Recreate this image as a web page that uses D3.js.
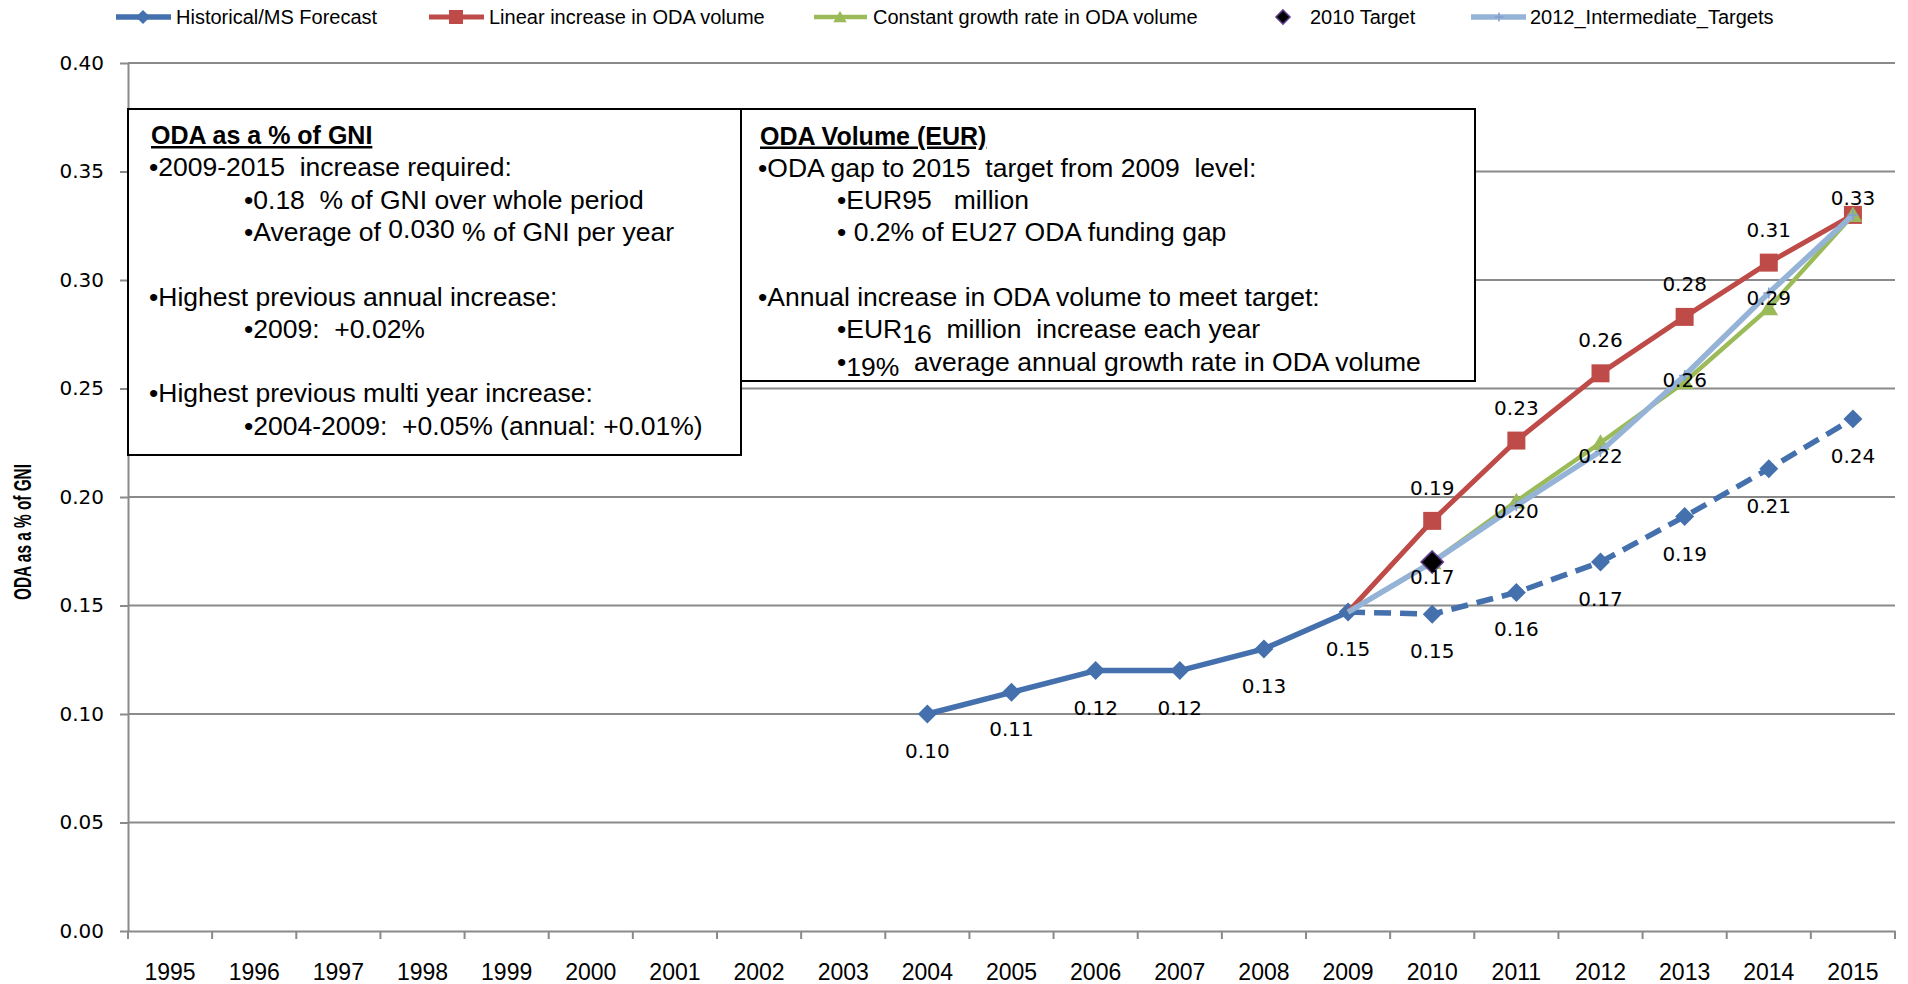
<!DOCTYPE html>
<html>
<head>
<meta charset="utf-8">
<script src="https://cdn.jsdelivr.net/npm/d3@7"></script>
<style>
  html, body { margin: 0; padding: 0; background: #fff; }
  svg { display: block; }
  text { white-space: pre; }
</style>
</head>
<body>
<svg id="chart" width="1908" height="984"></svg>
<script>
// ---- data -------------------------------------------------------------
const years = ["1995", "1996", "1997", "1998", "1999", "2000", "2001", "2002", "2003", "2004",
               "2005", "2006", "2007", "2008", "2009", "2010", "2011", "2012", "2013", "2014", "2015"];
const yTicks = [0.00, 0.05, 0.10, 0.15, 0.20, 0.25, 0.30, 0.35, 0.40];

const historicalYears  = ["2004", "2005", "2006", "2007", "2008", "2009"];
const historicalValues = [0.100, 0.110, 0.120, 0.120, 0.130, 0.147];

const projectionYears  = ["2009", "2010", "2011", "2012", "2013", "2014", "2015"];
const forecastValues     = [0.147, 0.146, 0.156, 0.170, 0.191, 0.213, 0.236];
const linearValues       = [0.147, 0.189, 0.226, 0.257, 0.283, 0.308, 0.330];
const constantValues     = [0.147, 0.170, 0.198, 0.225, 0.253, 0.287, 0.330];
const intermediateValues = [0.147, 0.170, 0.196, 0.221, 0.256, 0.294, 0.330];

const target2010Years  = ["2010"];
const target2010Values = [0.170];

const seriesNames = ["Historical/MS Forecast", "Linear increase in ODA volume",
                     "Constant growth rate in ODA volume", "2010 Target", "2012_Intermediate_Targets"];

const yAxisTitle = "ODA as a % of GNI";

// text panels: level 0 = heading, 1 = bullet, 2 = sub-bullet, null = blank line
// {..} marks a raised run, [..] a lowered run
const gniPanelLines = [
  { level: 0, text: "ODA as a % of GNI" },
  { level: 1, text: "•2009-2015  increase required:" },
  { level: 2, text: "•0.18  % of GNI over whole period" },
  { level: 2, text: "•Average of {0.030} % of GNI per year" },
  { level: null, text: "" },
  { level: 1, text: "•Highest previous annual increase:" },
  { level: 2, text: "•2009:  +0.02%" },
  { level: null, text: "" },
  { level: 1, text: "•Highest previous multi year increase:" },
  { level: 2, text: "•2004-2009:  +0.05% (annual: +0.01%)" }
];
const volumePanelLines = [
  { level: 0, text: "ODA Volume (EUR)" },
  { level: 1, text: "•ODA gap to 2015  target from 2009  level:" },
  { level: 2, text: "•EUR95   million" },
  { level: 2, text: "• 0.2% of EU27 ODA funding gap" },
  { level: null, text: "" },
  { level: 1, text: "•Annual increase in ODA volume to meet target:" },
  { level: 2, text: "•EUR[16]  million  increase each year" },
  { level: 2, text: "•[19%]  average annual growth rate in ODA volume" }
];

// ---- layout -----------------------------------------------------------
const svg = d3.select("#chart");
const plot = { left: 128, right: 1895, top: 63, bottom: 931 };

const x = d3.scaleBand().domain(years).range([plot.left, plot.right]).padding(0);
const cx = yr => x(yr) + x.bandwidth() / 2;
const y = d3.scaleLinear().domain([0, 0.4]).range([plot.bottom, plot.top]);
const fmt = d3.format(".2f");

const COLORS = {
  grid: "#8a8a8a",
  blue: "#4470AD",
  red: "#BE4B48",
  green: "#9BBB59",
  lightBlue: "#95B3D7",
  plusMark: "#7F9FCC"
};
const LABEL_FONT = "'DejaVu Sans', Verdana, sans-serif";
const TEXT_FONT = "'Liberation Sans', Arial, sans-serif";

// custom marker shapes
const diamond = { draw(ctx, size) { const r = Math.sqrt(size / 2);
  ctx.moveTo(0, -r); ctx.lineTo(r, 0); ctx.lineTo(0, r); ctx.lineTo(-r, 0); ctx.closePath(); } };
const triangle = { draw(ctx, size) { const w = Math.sqrt(size);
  ctx.moveTo(0, -w * 0.5); ctx.lineTo(w * 0.55, w * 0.42); ctx.lineTo(-w * 0.55, w * 0.42); ctx.closePath(); } };
const plusMark = { draw(ctx, size) { const r = Math.sqrt(size) / 2;
  ctx.moveTo(-r, 0); ctx.lineTo(r, 0); ctx.moveTo(0, -r); ctx.lineTo(0, r); } };

const pairs = (yrs, vals) => yrs.map((yr, i) => ({ year: yr, value: vals[i] }));

// ---- gridlines --------------------------------------------------------
svg.append("g").selectAll("line")
  .data(yTicks.filter(t => t > 0))
  .join("line")
  .attr("x1", plot.left).attr("x2", plot.right)
  .attr("y1", d => y(d)).attr("y2", d => y(d))
  .attr("stroke", COLORS.grid).attr("stroke-width", 2);

// ---- axes -------------------------------------------------------------
const yAxis = svg.append("g")
  .attr("transform", `translate(${plot.left},0)`)
  .call(d3.axisLeft(y).tickValues(yTicks).tickFormat(fmt).tickSize(8).tickSizeOuter(0).tickPadding(16));
yAxis.select(".domain").attr("stroke", COLORS.grid).attr("stroke-width", 2);
yAxis.selectAll(".tick line").attr("stroke", COLORS.grid).attr("stroke-width", 2);
yAxis.selectAll(".tick text").attr("font-family", LABEL_FONT).attr("font-size", 20).attr("fill", "#000");

const xAxis = svg.append("g")
  .attr("transform", `translate(0,${plot.bottom})`)
  .call(d3.axisBottom(x).tickSize(0).tickPadding(33).tickSizeOuter(0));
xAxis.select(".domain").attr("stroke", COLORS.grid).attr("stroke-width", 2);
xAxis.selectAll(".tick text").attr("font-family", TEXT_FONT).attr("font-size", 23).attr("fill", "#000");
// category boundaries carry the tick marks
xAxis.append("g").selectAll("line")
  .data(years.map(yr => x(yr)).concat([plot.right]))
  .join("line")
  .attr("x1", d => d).attr("x2", d => d)
  .attr("y1", 0).attr("y2", 8)
  .attr("stroke", COLORS.grid).attr("stroke-width", 2);

// y-axis title (condensed bold)
svg.append("text")
  .attr("transform", `translate(23,532) rotate(-90) scale(0.64,1)`)
  .attr("text-anchor", "middle").attr("dominant-baseline", "central")
  .attr("font-family", TEXT_FONT).attr("font-weight", "bold").attr("font-size", 24)
  .text(yAxisTitle);

// ---- text panels ------------------------------------------------------
function drawPanel(lines, box, indent) {
  const g = svg.append("g");
  g.append("rect")
    .attr("x", box.x0).attr("y", box.y0)
    .attr("width", box.x1 - box.x0).attr("height", box.y1 - box.y0)
    .attr("fill", "#fff").attr("stroke", "#000").attr("stroke-width", 2);
  lines.forEach((ln, i) => {
    if (ln.level === null) return;
    const baseline = box.firstLine + i * box.pitch + 9;
    const xPos = ln.level === 0 ? box.x0 + box.pad + 2 : ln.level === 1 ? box.x0 + box.pad : box.x0 + box.pad + indent;
    const t = g.append("text")
      .attr("x", xPos).attr("y", baseline)
      .attr("font-family", TEXT_FONT)
      .attr("font-size", ln.level === 0 ? 25 : 26.5)
      .attr("font-weight", ln.level === 0 ? "bold" : "normal")
      .attr("text-decoration", ln.level === 0 ? "underline" : null);
    // split into plain / raised / lowered runs
    const parts = ln.text.split(/(\{[^}]*\}|\[[^\]]*\])/).filter(s => s.length);
    parts.forEach(p => {
      if (p.startsWith("{")) {
        t.append("tspan").attr("baseline-shift", "3px").text(p.slice(1, -1));
      } else if (p.startsWith("[")) {
        t.append("tspan").attr("baseline-shift", "-5px").text(p.slice(1, -1));
      } else {
        t.append("tspan").text(p);
      }
    });
  });
}
drawPanel(gniPanelLines, { x0: plot.left, x1: 741, y0: 109, y1: 455, pad: 21, firstLine: 135, pitch: 32.3 }, 95);
drawPanel(volumePanelLines, { x0: 741, x1: 1475, y0: 109, y1: 381, pad: 17, firstLine: 135.5, pitch: 32.3 }, 79);

// ---- series -----------------------------------------------------------
const line = d3.line().x(d => cx(d.year)).y(d => y(d.value));

const historical = pairs(historicalYears, historicalValues);
const forecast = pairs(projectionYears, forecastValues);
const linear = pairs(projectionYears, linearValues);
const constant = pairs(projectionYears, constantValues);
const intermediate = pairs(projectionYears, intermediateValues);
const target2010 = pairs(target2010Years, target2010Values);

const series = svg.append("g");

// historical and forecast
series.append("path").datum(historical)
  .attr("d", line).attr("fill", "none")
  .attr("stroke", COLORS.blue).attr("stroke-width", 5.5).attr("stroke-linejoin", "round");
series.append("path").datum(forecast)
  .attr("d", line).attr("fill", "none")
  .attr("stroke", COLORS.blue).attr("stroke-width", 5.5).attr("stroke-dasharray", "17,9");
series.append("g").selectAll("path")
  .data(historical.concat(forecast.slice(1)))
  .join("path")
  .attr("transform", d => `translate(${cx(d.year)},${y(d.value)})`)
  .attr("d", d3.symbol().type(diamond).size(180))
  .attr("fill", COLORS.blue);

// linear increase
series.append("path").datum(linear)
  .attr("d", line).attr("fill", "none")
  .attr("stroke", COLORS.red).attr("stroke-width", 5);
series.append("g").selectAll("path")
  .data(linear.slice(1))
  .join("path")
  .attr("transform", d => `translate(${cx(d.year)},${y(d.value)})`)
  .attr("d", d3.symbol().type(d3.symbolSquare).size(324))
  .attr("fill", COLORS.red);

// constant growth
series.append("path").datum(constant)
  .attr("d", line).attr("fill", "none")
  .attr("stroke", COLORS.green).attr("stroke-width", 4.5);
series.append("g").selectAll("path")
  .data(constant.slice(1))
  .join("path")
  .attr("transform", d => `translate(${cx(d.year)},${y(d.value)})`)
  .attr("d", d3.symbol().type(triangle).size(289))
  .attr("fill", COLORS.green);

// intermediate targets
series.append("path").datum(intermediate)
  .attr("d", line).attr("fill", "none")
  .attr("stroke", COLORS.lightBlue).attr("stroke-width", 5.5);
series.append("g").selectAll("path")
  .data(intermediate.slice(1))
  .join("path")
  .attr("transform", d => `translate(${cx(d.year)},${y(d.value)})`)
  .attr("d", d3.symbol().type(plusMark).size(121))
  .attr("fill", "none").attr("stroke", COLORS.plusMark).attr("stroke-width", 1.5);

// 2010 target
series.append("g").selectAll("path")
  .data(target2010)
  .join("path")
  .attr("transform", d => `translate(${cx(d.year)},${y(d.value)})`)
  .attr("d", d3.symbol().type(diamond).size(250))
  .attr("fill", "#000").attr("stroke", "#5E3F8C").attr("stroke-width", 1.5);

// ---- data labels ------------------------------------------------------
const labels = svg.append("g")
  .attr("font-family", LABEL_FONT).attr("font-size", 20).attr("text-anchor", "middle");
function addLabels(data, dyFn) {
  labels.append("g").selectAll("text")
    .data(data)
    .join("text")
    .attr("x", d => cx(d.year))
    .attr("y", (d, i) => y(d.value) + dyFn(i, data.length))
    .attr("dominant-baseline", "central")
    .text(d => fmt(d.value));
}
addLabels(historical, () => 37);
addLabels(forecast.slice(1), () => 37);
addLabels(linear.slice(1), (i, n) => i === n - 1 ? -17 : -33);
addLabels(intermediate.slice(2, 6), () => 5);
addLabels(target2010, () => 15);

// ---- legend -----------------------------------------------------------
const legend = svg.append("g").attr("font-family", TEXT_FONT).attr("font-size", 20);
const legendY = 17;
const legendLayout = [
  { line: [116, 171], mark: 143, text: 176 },
  { line: [429, 484], mark: 456, text: 489 },
  { line: [814, 867], mark: 840, text: 873 },
  { line: null,       mark: 1283, text: 1310 },
  { line: [1471, 1526], mark: 1499, text: 1530 }
];
const legendStyle = [
  { color: COLORS.blue, width: 5.5, shape: diamond, size: 100, fill: COLORS.blue },
  { color: COLORS.red, width: 5, shape: d3.symbolSquare, size: 196, fill: COLORS.red },
  { color: COLORS.green, width: 4.5, shape: triangle, size: 150, fill: COLORS.green },
  { color: null, width: 0, shape: diamond, size: 100, fill: "#000", stroke: "#5E3F8C" },
  { color: COLORS.lightBlue, width: 5.5, shape: plusMark, size: 81, fill: "none", stroke: COLORS.plusMark }
];
seriesNames.forEach((name, i) => {
  const L = legendLayout[i], S = legendStyle[i];
  if (L.line) {
    legend.append("line")
      .attr("x1", L.line[0]).attr("x2", L.line[1])
      .attr("y1", legendY).attr("y2", legendY)
      .attr("stroke", S.color).attr("stroke-width", S.width);
  }
  legend.append("path")
    .attr("transform", `translate(${L.mark},${legendY})`)
    .attr("d", d3.symbol().type(S.shape).size(S.size))
    .attr("fill", S.fill)
    .attr("stroke", S.stroke || null).attr("stroke-width", S.stroke ? 1.5 : null);
  legend.append("text")
    .attr("x", L.text).attr("y", legendY)
    .attr("dominant-baseline", "central")
    .text(name);
});
</script>
</body>
</html>
